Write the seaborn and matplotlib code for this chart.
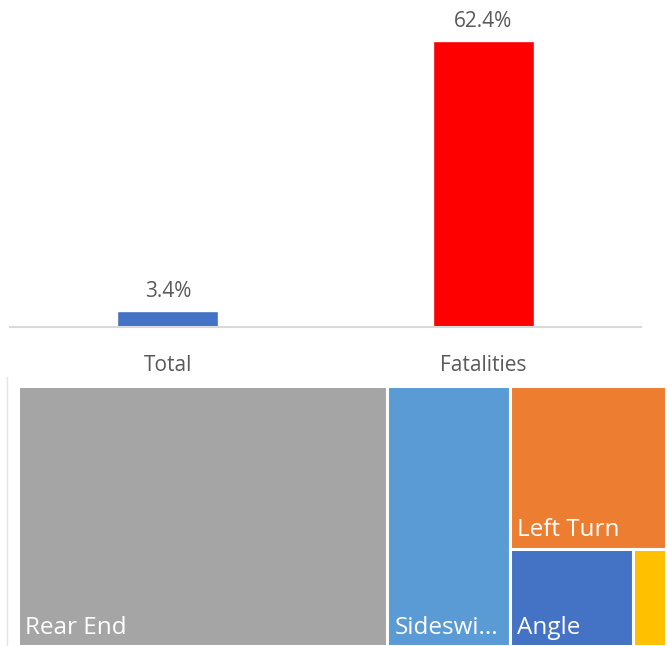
import matplotlib
matplotlib.use("Agg")
import matplotlib.pyplot as plt
from matplotlib.patches import Rectangle
import pandas as pd
import seaborn as sns

# Bar chart data
bar_labels = ["Total", "Fatalities"]
bar_values = [3.4, 62.4]
bar_colors = ["#4472C4", "#FF0000"]

# Treemap data (share of crashes by type)
tree_labels = ["Rear End", "Sideswipe", "Left Turn", "Angle", "Other"]
tree_values = [57.0, 19.0, 15.0, 7.1, 1.9]
tree_colors = ["#A5A5A5", "#5B9BD5", "#ED7D31", "#4472C4", "#FFC000"]

sns.set_theme(style="white")
plt.rcParams["font.family"] = ["Open Sans", "DejaVu Sans"]

W, H, DPI = 667, 646, 100
fig = plt.figure(figsize=(W / DPI, H / DPI), dpi=DPI)


def frac_box(x0, y0, x1, y1):
    # pixel box (top-left origin) -> figure fraction rect
    return [x0 / W, 1 - y1 / H, (x1 - x0) / W, (y1 - y0) / H]


# ---- top: bar chart ----
ax = fig.add_axes(frac_box(10, 0, 641, 327))
df = pd.DataFrame({"cat": bar_labels, "val": bar_values})
sns.barplot(data=df, x="cat", y="val", hue="cat", palette=bar_colors,
            width=0.32, legend=False, ax=ax, saturation=1)
ax.set_xlim(-0.5, 1.5)
ax.set_ylim(0, 71.3)
for p, v in zip(ax.patches, bar_values):
    ax.text(p.get_x() + p.get_width() / 2, v + 2.0, f"{v}%",
            ha="center", va="bottom", fontsize=15, color="#595959")
ax.set_xlabel("")
ax.set_ylabel("")
ax.set_yticks([])
ax.tick_params(axis="x", length=0, pad=20, labelsize=15, labelcolor="#595959")
for s in ["top", "right", "left"]:
    ax.spines[s].set_visible(False)
ax.spines["bottom"].set_color("#D9D9D9")
ax.spines["bottom"].set_linewidth(1.5)


# ---- bottom: treemap ----
def strip_layout(values, x, y, w, h):
    # peel each item off as a strip along the longer side
    rects = []
    rest = float(sum(values))
    for v in values:
        f = v / rest
        if w >= h:
            rw = w * f
            rects.append((x, y, rw, h))
            x += rw
            w -= rw
        else:
            rh = h * f
            rects.append((x, y + h - rh, w, rh))
            h -= rh
        rest -= v
    return rects


tx0, ty0, tx1, ty1 = 18, 386, 666, 646
tax = fig.add_axes(frac_box(tx0, ty0, tx1, ty1))
tw, th = tx1 - tx0, ty1 - ty0
tax.set_xlim(0, tw)
tax.set_ylim(0, th)
tax.axis("off")

rects = strip_layout(tree_values, 0, 0, tw, th)
fig.canvas.draw()
renderer = fig.canvas.get_renderer()
for (x, y, w, h), lab, col in zip(rects, tree_labels, tree_colors):
    tax.add_patch(Rectangle((x, y), w, h, facecolor=col,
                            edgecolor="white", linewidth=2.2))
    t = tax.text(x + 7, y + 6, lab, color="white", fontsize=17.5,
                 ha="left", va="bottom")
    text = lab
    while t.get_window_extent(renderer).width > w - 14 and len(text) > 1:
        text = text[:-1]
        t.set_text(text.rstrip() + "...")
    if t.get_window_extent(renderer).width > w - 14:
        t.set_visible(False)

# thin border line left of the treemap
fig.add_artist(plt.Line2D([7 / W, 7 / W], [0, 1 - 377 / H],
                          color="#E3E3E3", linewidth=1))

fig.savefig("out.png", dpi=DPI)
